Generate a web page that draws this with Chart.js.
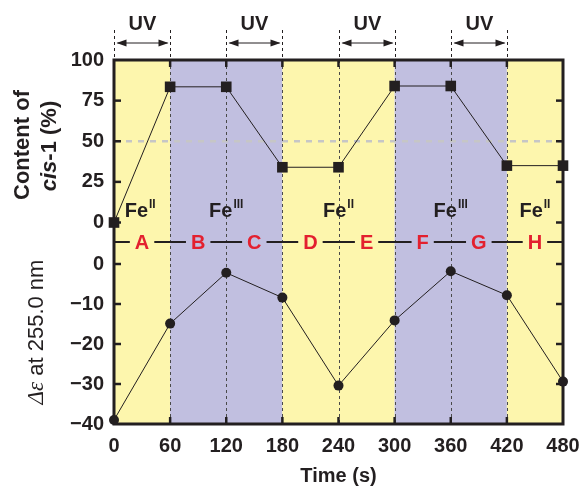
<!DOCTYPE html>
<html><head><meta charset="utf-8">
<script src="https://cdn.jsdelivr.net/npm/chart.js@4/dist/chart.umd.min.js"></script>
<style>html,body{margin:0;padding:0;background:#fff}</style>
</head><body>
<canvas id="c" width="581" height="488"></canvas>
<script>
// ---- data ----
const times = [0, 60, 120, 180, 240, 300, 360, 420, 480];
const cisContent = [0, 83.5, 83.5, 34, 34, 84, 84, 35, 35];
const deltaEps = [-39, -14.9, -2.2, -8.4, -30.4, -14.1, -1.8, -7.8, -29.4];
const xTicks = [0, 60, 120, 180, 240, 300, 360, 420, 480];
const cisTicks = [0, 25, 50, 75, 100];
const epsTicks = [-40, -30, -20, -10, 0];
const bandStarts = [0, 60, 180, 300, 420];
const bandEnds = [60, 180, 300, 420, 480];
const bandKinds = ['FeII', 'FeIII', 'FeII', 'FeIII', 'FeII'];
const uvStarts = [0, 120, 240, 360];
const uvEnds = [60, 180, 300, 420];
const stateLabels = ['A', 'B', 'C', 'D', 'E', 'F', 'G', 'H'];
const stateCenters = [30, 90, 150, 210, 270, 330, 390, 450];
const feTimes = [28, 120, 240, 360, 450];
const feOx = ['II', 'III', 'II', 'III', 'II'];

const YELLOW = '#fdf6ad';
const PURPLE = '#c1bfe0';
const RED = '#e3202f';
const INK = '#231f20';
const SANS = '"Liberation Sans", Arial, sans-serif';

function dline(ctx, x1, y1, x2, y2) { ctx.beginPath(); ctx.moveTo(x1, y1); ctx.lineTo(x2, y2); ctx.stroke(); }

const deco = {
  id: 'deco',
  beforeDatasetsDraw(chart) {
    const { ctx, chartArea: ca, scales } = chart;
    const x = scales.x, yT = scales.yTop, yB = scales.yBot;
    ctx.save();
    // bands
    bandStarts.forEach((a, i) => {
      const x1 = x.getPixelForValue(a), x2 = x.getPixelForValue(bandEnds[i]);
      ctx.fillStyle = bandKinds[i] === 'FeII' ? YELLOW : PURPLE;
      ctx.fillRect(x1, ca.top, x2 - x1, ca.bottom - ca.top);
    });
    // gray dashed 50% line
    ctx.setLineDash([6, 6]);
    ctx.strokeStyle = '#c6c6c6';
    ctx.lineWidth = 2.5;
    const y50 = yT.getPixelForValue(50);
    dline(ctx, ca.left, y50, ca.right, y50);
    // vertical dashed lines
    ctx.setLineDash([3, 3]);
    ctx.strokeStyle = '#4a4a4a';
    ctx.lineWidth = 1;
    xTicks.forEach(t => {
      if (t > x.min && t < x.max) {
        const px = Math.round(x.getPixelForValue(t)) + 0.5;
        dline(ctx, px, ca.top, px, ca.bottom);
      }
    });
    ctx.setLineDash([]);
    // middle state band
    const ym = yT.bottom;
    ctx.font = 'bold 20px ' + SANS;
    ctx.textAlign = 'center';
    ctx.textBaseline = 'middle';
    const gaps = stateLabels.map((s, i) => {
      const cx = x.getPixelForValue(stateCenters[i]);
      const w = ctx.measureText(s).width;
      return [cx - w / 2 - 5, cx + w / 2 + 5];
    });
    ctx.strokeStyle = INK;
    ctx.lineWidth = 2;
    let start = ca.left;
    gaps.forEach(g => { dline(ctx, start, ym, g[0], ym); start = g[1]; });
    dline(ctx, start, ym, ca.right, ym);
    ctx.fillStyle = RED;
    stateLabels.forEach((s, i) => ctx.fillText(s, x.getPixelForValue(stateCenters[i]), ym + 1));
    // Fe labels
    const yf = yT.getPixelForValue(7);
    feTimes.forEach((t, i) => {
      ctx.font = 'bold 20px ' + SANS;
      const w1 = ctx.measureText('Fe').width;
      ctx.font = 'bold 12px ' + SANS;
      const w2 = ctx.measureText(feOx[i]).width;
      const cx = x.getPixelForValue(t);
      const x0 = cx - (w1 + w2 + 1) / 2;
      ctx.fillStyle = INK;
      ctx.textAlign = 'left';
      ctx.font = 'bold 20px ' + SANS;
      ctx.fillText('Fe', x0, yf);
      ctx.font = 'bold 12px ' + SANS;
      ctx.fillText(feOx[i], x0 + w1 + 1, yf - 6);
    });
    // inner ticks
    ctx.strokeStyle = INK;
    ctx.lineWidth = 2.5;
    const tl = 7;
    xTicks.forEach(t => {
      if (t > x.min && t < x.max) {
        const px = x.getPixelForValue(t);
        dline(ctx, px, ca.bottom, px, ca.bottom - tl);
        dline(ctx, px, ca.top, px, ca.top + tl);
      }
    });
    cisTicks.forEach(v => {
      if (v > yT.min && v < yT.max) {
        const py = yT.getPixelForValue(v);
        dline(ctx, ca.left, py, ca.left + tl, py);
        dline(ctx, ca.right, py, ca.right - tl, py);
      }
    });
    epsTicks.forEach(v => {
      if (v > yB.min && v < yB.max) {
        const py = yB.getPixelForValue(v);
        dline(ctx, ca.left, py, ca.left + tl, py);
        dline(ctx, ca.right, py, ca.right - tl, py);
      }
    });
    // frame
    ctx.lineWidth = 3;
    ctx.strokeRect(ca.left, ca.top, ca.right - ca.left, ca.bottom - ca.top);
    ctx.restore();
  },
  afterDraw(chart) {
    const { ctx, chartArea: ca, scales } = chart;
    const x = scales.x;
    ctx.save();
    // UV annotations
    ctx.strokeStyle = INK;
    ctx.fillStyle = INK;
    uvStarts.forEach((a, i) => {
      const x1 = Math.round(x.getPixelForValue(a)) + 0.5, x2 = Math.round(x.getPixelForValue(uvEnds[i])) + 0.5;
      ctx.setLineDash([3, 3]);
      ctx.lineWidth = 1;
      dline(ctx, x1, 30, x1, ca.top);
      dline(ctx, x2, 30, x2, ca.top);
      ctx.setLineDash([]);
      const ya = 43;
      dline(ctx, x1 + 3, ya, x2 - 3, ya);
      ctx.beginPath();
      ctx.moveTo(x1 + 2, ya); ctx.lineTo(x1 + 12, ya - 3.5); ctx.lineTo(x1 + 12, ya + 3.5); ctx.closePath(); ctx.fill();
      ctx.beginPath();
      ctx.moveTo(x2 - 2, ya); ctx.lineTo(x2 - 12, ya - 3.5); ctx.lineTo(x2 - 12, ya + 3.5); ctx.closePath(); ctx.fill();
      ctx.font = 'bold 20px ' + SANS;
      ctx.textAlign = 'center';
      ctx.textBaseline = 'middle';
      ctx.fillText('UV', (x1 + x2) / 2, 24);
    });
    // y titles
    ctx.fillStyle = INK;
    ctx.textBaseline = 'middle';
    ctx.save();
    ctx.translate(23, 145);
    ctx.rotate(-Math.PI / 2);
    ctx.textAlign = 'center';
    ctx.font = 'bold 22px ' + SANS;
    ctx.fillText('Content of', 0, 0);
    ctx.restore();
    ctx.save();
    ctx.translate(50, 146);
    ctx.rotate(-Math.PI / 2);
    ctx.textAlign = 'left';
    ctx.font = 'italic bold 22px ' + SANS;
    const wc = ctx.measureText('cis').width;
    ctx.font = 'bold 22px ' + SANS;
    const wr = ctx.measureText('-1 (%)').width;
    let sx = -(wc + wr) / 2;
    ctx.font = 'italic bold 22px ' + SANS;
    ctx.fillText('cis', sx, 0);
    ctx.font = 'bold 22px ' + SANS;
    ctx.fillText('-1 (%)', sx + wc, 0);
    ctx.restore();
    ctx.save();
    ctx.translate(37, 332);
    ctx.rotate(-Math.PI / 2);
    ctx.textAlign = 'left';
    ctx.font = 'italic 23px "Liberation Serif", serif';
    const wd = ctx.measureText('\u0394\u03b5').width;
    ctx.font = '22px ' + SANS;
    const wt = ctx.measureText(' at 255.0 nm').width;
    sx = -(wd + wt) / 2;
    ctx.font = 'italic 23px "Liberation Serif", serif';
    ctx.fillText('\u0394\u03b5', sx, 0);
    ctx.font = '22px ' + SANS;
    ctx.fillText(' at 255.0 nm', sx + wd, 0);
    ctx.restore();
    ctx.restore();
  }
};

const fmt = v => v < 0 ? '\u2212' + Math.abs(v) : String(v);
const fitY = s => { s.width = 114; s.paddingTop = 0; s.paddingBottom = 0; };

new Chart(document.getElementById('c'), {
  type: 'line',
  data: {
    datasets: [
      {
        label: 'cis-1 content',
        data: times.map((t, i) => ({ x: t, y: cisContent[i] })),
        yAxisID: 'yTop',
        borderColor: INK, borderWidth: 1,
        pointStyle: 'rect', pointRadius: 7.5,
        pointBackgroundColor: INK, pointBorderColor: INK, pointBorderWidth: 0,
        clip: false
      },
      {
        label: 'delta epsilon',
        data: times.map((t, i) => ({ x: t, y: deltaEps[i] })),
        yAxisID: 'yBot',
        borderColor: INK, borderWidth: 1,
        pointStyle: 'circle', pointRadius: 5,
        pointBackgroundColor: INK, pointBorderColor: INK, pointBorderWidth: 0,
        clip: false
      }
    ]
  },
  options: {
    responsive: false,
    animation: false,
    devicePixelRatio: 1,
    layout: { padding: { left: 0, right: 18, top: 60, bottom: 0 } },
    plugins: { legend: { display: false }, tooltip: { enabled: false } },
    scales: {
      x: {
        type: 'linear', min: 0, max: 480,
        afterBuildTicks: s => { s.ticks = xTicks.map(v => ({ value: v })); },
        afterFit: s => { s.height = 64; s.paddingLeft = 0; s.paddingRight = 0; },
        grid: { display: false, drawTicks: false },
        border: { display: false },
        ticks: { color: INK, font: { family: SANS, size: 20, weight: 'bold' }, padding: 10, maxRotation: 0, autoSkip: false },
        title: { display: true, text: 'Time (s)', color: INK, font: { family: SANS, size: 20, weight: 'bold' }, padding: { top: 6, bottom: 0 } }
      },
      yBot: {
        type: 'linear', position: 'left', stack: 'y', stackWeight: 1,
        min: -40, max: 5.5,
        afterBuildTicks: s => { s.ticks = epsTicks.map(v => ({ value: v })); },
        afterFit: fitY,
        grid: { display: false, drawTicks: false },
        border: { display: false },
        ticks: { color: INK, font: { family: SANS, size: 20, weight: 'bold' }, padding: 10, autoSkip: false, callback: fmt }
      },
      yTop: {
        type: 'linear', position: 'left', stack: 'y', stackWeight: 1,
        min: -12, max: 100,
        afterBuildTicks: s => { s.ticks = cisTicks.map(v => ({ value: v })); },
        afterFit: fitY,
        grid: { display: false, drawTicks: false },
        border: { display: false },
        ticks: { color: INK, font: { family: SANS, size: 20, weight: 'bold' }, padding: 10, autoSkip: false, callback: fmt }
      }
    }
  },
  plugins: [deco]
});
</script>
</body></html>
